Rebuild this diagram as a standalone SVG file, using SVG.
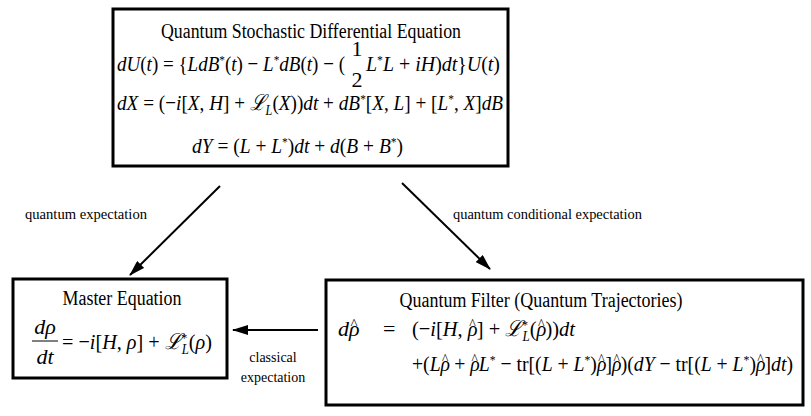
<svg xmlns="http://www.w3.org/2000/svg" width="811" height="416" viewBox="0 0 811 416">
<style>
.box{fill:#fff;stroke:#000;stroke-width:3}
.t{font-family:"Liberation Serif","Times New Roman",serif;font-size:20px;fill:#000}
.m{font-family:"Liberation Serif","Times New Roman",serif;font-size:22px;fill:#000}
.i{font-style:italic}
.sup{font-size:13px;baseline-shift:7px}
.sub{font-size:14px;font-style:italic;baseline-shift:-5px}
.hat{font-size:15px;font-style:normal;baseline-shift:7px}
.sc{font-family:"DejaVu Serif","Liberation Serif",serif;font-style:italic}
.lbl{font-family:"Liberation Serif","Times New Roman",serif;font-size:14px;fill:#000}
.ar{stroke:#000;stroke-width:2;fill:none;marker-end:url(#ah)}
</style>
<defs>
<marker id="ah" viewBox="0 0 16 10" refX="15" refY="5" markerWidth="16" markerHeight="10" orient="auto" markerUnits="userSpaceOnUse">
<path d="M0,0 L16,5 L0,10 z" fill="#000"/>
</marker>
</defs>
<rect width="811" height="416" fill="#fff"/>
<g id="qsde">
<rect class="box" x="113" y="9" width="395" height="157"/>
<text class="t" x="311" y="38" text-anchor="middle" textLength="300" lengthAdjust="spacingAndGlyphs">Quantum Stochastic Differential Equation</text>
<text class="m" x="117" y="71" textLength="228" lengthAdjust="spacingAndGlyphs"><tspan class="i">dU</tspan>(<tspan class="i">t</tspan>) = {<tspan class="i">LdB</tspan><tspan class="sup">*</tspan>(<tspan class="i">t</tspan>) − <tspan class="i">L</tspan><tspan class="sup">*</tspan><tspan class="i">dB</tspan>(<tspan class="i">t</tspan>) − (</text>
<text class="m" x="357" y="56" text-anchor="middle" font-size="19">1</text>
<text class="m" x="357" y="87" text-anchor="middle" font-size="19">2</text>
<text class="m" x="366" y="71" textLength="134" lengthAdjust="spacingAndGlyphs"><tspan class="i">L</tspan><tspan class="sup">*</tspan><tspan class="i">L</tspan> + <tspan class="i">iH</tspan>)<tspan class="i">dt</tspan>}<tspan class="i">U</tspan>(<tspan class="i">t</tspan>)</text>
<text class="m" x="117" y="110" textLength="386" lengthAdjust="spacingAndGlyphs"><tspan class="i">dX</tspan> = (−<tspan class="i">i</tspan>[<tspan class="i">X</tspan>, <tspan class="i">H</tspan>] + <tspan class="sc">ℒ</tspan><tspan class="sub">L</tspan>(<tspan class="i">X</tspan>))<tspan class="i">dt</tspan> + <tspan class="i">dB</tspan><tspan class="sup">*</tspan>[<tspan class="i">X</tspan>, <tspan class="i">L</tspan>] + [<tspan class="i">L</tspan><tspan class="sup">*</tspan>, <tspan class="i">X</tspan>]<tspan class="i">dB</tspan></text>
<text class="m" x="192" y="153" textLength="211" lengthAdjust="spacingAndGlyphs"><tspan class="i">dY</tspan> = (<tspan class="i">L</tspan> + <tspan class="i">L</tspan><tspan class="sup">*</tspan>)<tspan class="i">dt</tspan> + <tspan class="i">d</tspan>(<tspan class="i">B</tspan> + <tspan class="i">B</tspan><tspan class="sup">*</tspan>)</text>
</g>
<g id="master">
<rect class="box" x="13" y="279" width="214" height="99"/>
<text class="t" x="122" y="305" text-anchor="middle" textLength="119" lengthAdjust="spacingAndGlyphs">Master Equation</text>
<text class="m i" x="45" y="334" text-anchor="middle">dρ</text>
<line x1="32" y1="341" x2="58" y2="341" stroke="#000" stroke-width="1"/>
<text class="m i" x="45" y="364" text-anchor="middle">dt</text>
<text class="m" x="62" y="349" textLength="150" lengthAdjust="spacingAndGlyphs">= −<tspan class="i">i</tspan>[<tspan class="i">H</tspan>, <tspan class="i">ρ</tspan>] + <tspan class="sc">ℒ</tspan><tspan class="sup">*</tspan><tspan class="sub" dx="-6">L</tspan>(<tspan class="i">ρ</tspan>)</text>
</g>
<g id="filter">
<rect class="box" x="326" y="280" width="477" height="125"/>
<text class="t" x="541" y="307" text-anchor="middle" textLength="283" lengthAdjust="spacingAndGlyphs">Quantum Filter (Quantum Trajectories)</text>
<text class="m" x="338" y="336"><tspan class="i">dρ</tspan><tspan class="hat" dx="-9">^</tspan></text>
<text class="m" x="383" y="336">=</text>
<text class="m" x="412" y="336" textLength="163" lengthAdjust="spacingAndGlyphs">(−<tspan class="i">i</tspan>[<tspan class="i">H</tspan>, <tspan class="i">ρ</tspan><tspan class="hat" dx="-9">^</tspan><tspan dx="1">]</tspan> + <tspan class="sc">ℒ</tspan><tspan class="sup">*</tspan><tspan class="sub" dx="-6">L</tspan>(<tspan class="i">ρ</tspan><tspan class="hat" dx="-9">^</tspan><tspan dx="1">))</tspan><tspan class="i">dt</tspan></text>
<text class="m" x="412" y="371" textLength="381" lengthAdjust="spacingAndGlyphs">+(<tspan class="i">Lρ</tspan><tspan class="hat" dx="-9">^</tspan><tspan dx="1"> + </tspan><tspan class="i">ρ</tspan><tspan class="hat" dx="-9">^</tspan><tspan class="i" dx="1">L</tspan><tspan class="sup">*</tspan> − tr[(<tspan class="i">L</tspan> + <tspan class="i">L</tspan><tspan class="sup">*</tspan>)<tspan class="i">ρ</tspan><tspan class="hat" dx="-9">^</tspan><tspan dx="1">]</tspan><tspan class="i">ρ</tspan><tspan class="hat" dx="-9">^</tspan><tspan dx="1">)(</tspan><tspan class="i">dY</tspan> − tr[(<tspan class="i">L</tspan> + <tspan class="i">L</tspan><tspan class="sup">*</tspan>)<tspan class="i">ρ</tspan><tspan class="hat" dx="-9">^</tspan><tspan dx="1">]</tspan><tspan class="i">dt</tspan>)</text>
</g>
<g id="connectors">
<line class="ar" x1="220" y1="186" x2="130" y2="275"/>
<line class="ar" x1="402" y1="183" x2="490" y2="269"/>
<line class="ar" x1="318" y1="330" x2="233" y2="330"/>
<text class="lbl" x="25" y="219" textLength="122" lengthAdjust="spacingAndGlyphs">quantum expectation</text>
<text class="lbl" x="453" y="219" textLength="189" lengthAdjust="spacingAndGlyphs">quantum conditional expectation</text>
<text class="lbl" x="273" y="362" text-anchor="middle">classical</text>
<text class="lbl" x="273" y="382" text-anchor="middle">expectation</text>
</g>
</svg>
